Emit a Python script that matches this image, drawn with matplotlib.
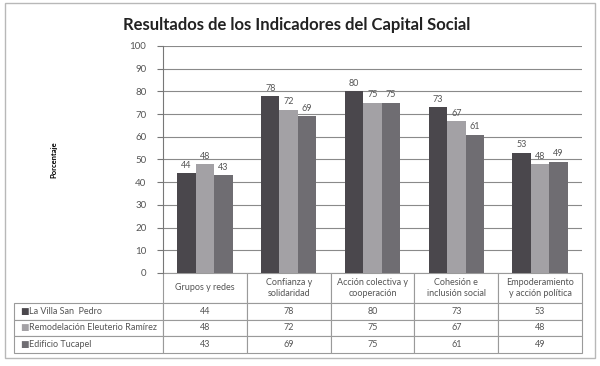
import matplotlib.pyplot as plt
from matplotlib.patches import Rectangle
import numpy as np

plt.rcParams['font.family'] = ['Lato', 'DejaVu Sans']

categorias = ["Grupos y redes", "Confianza y\nsolidaridad", "Acción colectiva y\ncooperación",
              "Cohesión e\ninclusión social", "Empoderamiento\ny acción política"]
series = ["La Villa San  Pedro", "Remodelación Eleuterio Ramírez", "Edificio Tucapel"]
villa = [44, 78, 80, 73, 53]
remodelacion = [48, 72, 75, 67, 48]
tucapel = [43, 69, 75, 61, 49]
valores = [villa, remodelacion, tucapel]
colores = ['#4a474c', '#a3a1a5', '#6f6d72']

fig = plt.figure(figsize=(6, 3.66), dpi=100)
# outer chart frame
fig.patches.append(Rectangle((5/600, 8/366), 590/600, 355/366, transform=fig.transFigure,
                             fill=False, ec='#b8b8b8', lw=1.0))
ax = fig.add_axes([163/600, 93/366, 419/600, 227/366])

x = np.arange(len(categorias))
w = 0.22
for i, (vals, c) in enumerate(zip(valores, colores)):
    bars = ax.bar(x + (i - 1) * w, vals, width=w, color=c, zorder=3)
    for b, v in zip(bars, vals):
        ax.text(b.get_x() + b.get_width() / 2, v + 1.5, str(v), ha='center', va='bottom',
                fontsize=6.5, color='#555555')

ax.set_xlim(-0.5, 4.5)
ax.set_ylim(0, 100)
ax.set_yticks(range(0, 101, 10))
ax.yaxis.grid(True, color='#8a8a8a', lw=0.8, zorder=0)
ax.set_xticks([])
for s in ['top', 'right', 'bottom']:
    ax.spines[s].set_visible(False)
ax.spines['left'].set_color('#777777')
ax.tick_params(axis='y', length=4, color='#777777', labelsize=7, labelcolor='#555555', pad=8)
ax.set_ylabel('Porcentaje', fontsize=5.5, fontweight='bold', labelpad=52)

fig.text(0.494, 0.932, 'Resultados de los Indicadores del Capital Social',
         ha='center', va='center', fontsize=12, fontweight='bold', color='#222222')

# data table below the plot
label_w = 149 / 419
header_h, row_h = 30, 16.5
total_h = header_h + 3 * row_h
cell_text = [[s] + [str(v) for v in vals] for s, vals in zip(series, valores)]
tbl = ax.table(cellText=cell_text, colLabels=[''] + categorias,
               colWidths=[label_w] + [0.2] * 5, cellLoc='center',
               bbox=[-label_w, -total_h / 227, 1 + label_w, total_h / 227])
tbl.auto_set_font_size(False)
for (r, c), cell in tbl.get_celld().items():
    cell.set_edgecolor('#9a9a9a')
    cell.set_linewidth(0.8)
    cell.set_height(header_h if r == 0 else row_h)
    cell.get_text().set_fontsize(6.5)
    cell.get_text().set_color('#555555')
    if c == 0:
        cell.get_text().set_ha('left')
tbl[0, 0].visible_edges = 'open'

# legend swatches in the row label cells
for i, c in enumerate(colores):
    yc = -(header_h + (i + 0.5) * row_h) / 227
    ax.text(-0.331, yc, '■', color=c, fontsize=6.5, ha='center', va='center',
            transform=ax.transAxes, family='DejaVu Sans')

fig.savefig('out.png', dpi=100)
